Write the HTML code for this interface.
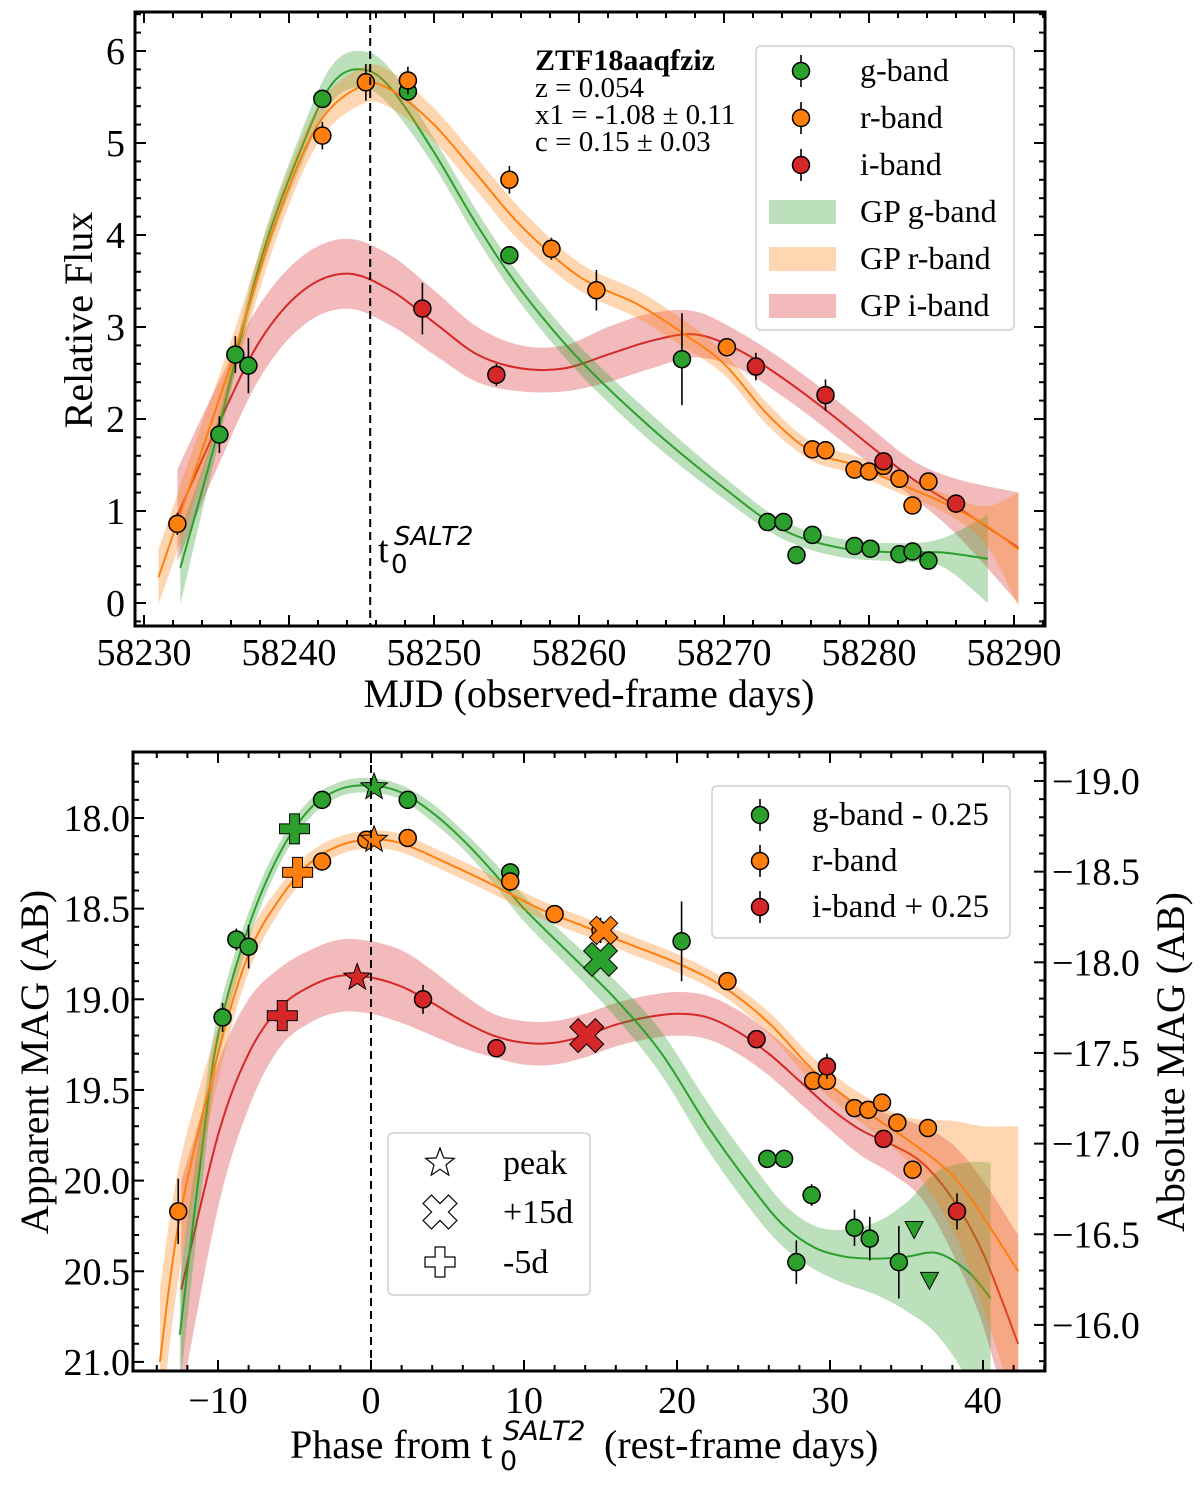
<!DOCTYPE html>
<html><head><meta charset="utf-8"><style>
html,body{margin:0;padding:0;background:#fff}
svg text{font-family:"Liberation Serif",serif;fill:#000}
.math{font-family:"DejaVu Sans",sans-serif;font-style:italic}
.mathup{font-family:"DejaVu Sans",sans-serif}
</style></head><body>
<svg id="fig" xmlns="http://www.w3.org/2000/svg" width="1200" height="1482" viewBox="0 0 1200 1482">
<defs>
<clipPath id="clipTop"><rect x="135" y="12" width="910" height="614"/></clipPath>
<clipPath id="clipBot"><rect x="133" y="752" width="912" height="619"/></clipPath>
</defs>
<g id="topPanel"></g>
<g id="botPanel"></g>
</svg>
<script>
// ---------- TOP PANEL DATA (MJD, relative flux) ----------
const gMjd=[58235.2,58236.3,58237.2,58242.3,58248.2,58255.2,58267.1,58273.0,58274.1,58275.0,58276.1,58279.0,58280.1,58282.1,58283.0,58284.1];
const gFlux=[1.83,2.70,2.58,5.48,5.56,3.78,2.65,0.88,0.88,0.52,0.74,0.62,0.59,0.53,0.56,0.46];
const gErr=[0.2,0.2,0.3,0.1,0.1,0.08,0.5,0.05,0.05,0.05,0.05,0.05,0.05,0.05,0.08,0.05];
const rMjd=[58232.3,58242.3,58245.3,58248.2,58255.2,58258.1,58261.2,58270.2,58276.1,58277.0,58279.0,58280.0,58281.0,58282.1,58283.0,58284.1];
const rFlux=[0.86,5.08,5.66,5.68,4.60,3.85,3.40,2.78,1.67,1.66,1.45,1.43,1.49,1.35,1.06,1.32];
const rErr=[0.12,0.15,0.2,0.15,0.15,0.12,0.22,0.1,0.05,0.05,0.05,0.05,0.05,0.05,0.05,0.05];
const iMjd=[58249.2,58254.3,58272.2,58277.0,58281.0,58286.0];
const iFlux=[3.20,2.48,2.57,2.26,1.54,1.08];
const iErr=[0.28,0.12,0.15,0.17,0.08,0.1];
const gpGx=[58232.5,58235,58238,58241,58243,58245,58247,58250,58253,58256,58260,58265,58270,58274,58278,58282,58285,58288.2];
const gpGy=[0.38,1.8,3.7,5.0,5.65,5.8,5.6,4.9,4.1,3.4,2.65,1.9,1.25,0.8,0.6,0.55,0.55,0.48];
const gpGs=[0.4,0.15,0.15,0.18,0.2,0.2,0.2,0.15,0.15,0.15,0.15,0.15,0.12,0.1,0.1,0.1,0.15,0.48];
const gpRx=[58231,58233,58236,58239,58242,58245,58247,58250,58253,58256,58260,58264,58267,58270,58273,58276,58279,58282,58285,58288,58290.3];
const gpRy=[0.28,1.2,2.6,4.1,5.2,5.62,5.58,5.2,4.65,4.1,3.55,3.25,2.95,2.6,2.05,1.65,1.5,1.3,1.1,0.85,0.58];
const gpRs=[0.3,0.3,0.25,0.2,0.2,0.2,0.2,0.18,0.18,0.18,0.15,0.15,0.15,0.12,0.12,0.1,0.1,0.1,0.1,0.2,0.62];
const gpIx=[58232.3,58235,58238,58241,58244,58247,58250,58253,58256,58259,58262,58265,58268,58271,58274,58277,58280,58283,58286,58290.3];
const gpIy=[0.95,1.9,2.85,3.4,3.58,3.4,3.05,2.7,2.55,2.55,2.7,2.85,2.92,2.75,2.45,2.1,1.72,1.35,1.05,0.6];
const gpIs=[0.5,0.45,0.4,0.38,0.38,0.38,0.35,0.3,0.25,0.25,0.3,0.3,0.25,0.2,0.2,0.2,0.2,0.2,0.3,0.6];
const t0Mjd=58245.6;
const topXTicks=[58230,58240,58250,58260,58270,58280,58290];
const topYTicks=[0,1,2,3,4,5,6];

// ---------- BOTTOM PANEL DATA (phase, apparent mag) ----------
const gPh=[-9.7,-8.8,-8.0,-3.2,2.4,9.1,20.3,25.9,27.0,27.8,28.8,31.6,32.6,34.5];
const gMag=[19.10,18.67,18.71,17.90,17.90,18.30,18.68,19.88,19.88,20.45,20.08,20.26,20.32,20.45];
const gMagErr=[0.08,0.06,0.12,0.02,0.02,0.04,0.22,0.05,0.05,0.12,0.06,0.1,0.12,0.2];
const gLimPh=[35.5,36.5];
const gLimMag=[20.27,20.55];
const rPh=[-12.6,-3.2,-0.3,2.4,9.1,12.0,15.0,23.3,28.9,29.8,31.6,32.5,33.4,34.4,35.4,36.4];
const rMag=[20.17,18.24,18.12,18.11,18.35,18.53,18.62,18.90,19.45,19.45,19.60,19.61,19.57,19.68,19.94,19.71];
const rMagErr=[0.18,0.04,0.04,0.03,0.04,0.03,0.07,0.03,0.03,0.03,0.03,0.03,0.04,0.04,0.05,0.04];
const iPh=[3.4,8.2,25.2,29.8,33.5,38.3];
const iMag=[19.00,19.27,19.22,19.37,19.77,20.17];
const iMagErr=[0.08,0.05,0.05,0.07,0.05,0.1];
const bgx=[-12.5,-11,-10,-8,-6,-4,-2,0,2,4,6,8,10,13,16,19,22,25,27,29,31,33,35,37,39,40.5];
const bgy=[20.85,19.8,19.2,18.6,18.2,17.95,17.84,17.82,17.86,17.97,18.12,18.3,18.5,18.75,19.0,19.3,19.7,20.05,20.25,20.37,20.42,20.43,20.42,20.4,20.5,20.65];
const bgs=[0.3,0.2,0.12,0.08,0.06,0.05,0.04,0.04,0.04,0.05,0.05,0.06,0.07,0.08,0.1,0.12,0.13,0.13,0.12,0.12,0.15,0.2,0.3,0.45,0.6,0.75];
const brx=[-13.8,-12.5,-10,-8,-6,-4,-2,0,2,5,8,11,14,17,20,23,26,29,32,35,38,40,42.3];
const bry=[21.0,20.2,19.3,18.75,18.45,18.25,18.15,18.12,18.14,18.25,18.37,18.5,18.6,18.7,18.8,18.93,19.13,19.4,19.6,19.77,19.97,20.2,20.5];
const brs=[0.4,0.3,0.15,0.1,0.07,0.06,0.05,0.05,0.05,0.05,0.05,0.05,0.05,0.05,0.05,0.05,0.06,0.07,0.08,0.12,0.3,0.5,0.8];
const bix=[-12.4,-10,-8,-6,-4,-2,0,2,4,6,8,10,12,14,16,18,20,22,24,26,28,30,32,34,36,38,40,42.3];
const biy=[20.6,19.75,19.3,19.05,18.93,18.87,18.88,18.93,19.02,19.12,19.2,19.24,19.24,19.2,19.14,19.1,19.08,19.1,19.18,19.3,19.45,19.6,19.72,19.8,19.9,20.1,20.4,20.9];
const bis=[0.6,0.4,0.3,0.22,0.2,0.2,0.2,0.2,0.18,0.15,0.12,0.12,0.12,0.12,0.12,0.12,0.12,0.12,0.12,0.12,0.12,0.12,0.14,0.16,0.2,0.3,0.4,0.6];
const peakPh=[0.2,0.2,-0.9];
const peakMag=[17.83,18.12,18.88];
const p15Ph=[15.0,15.2,14.1];
const p15Mag=[18.78,18.62,19.20];
const m5Ph=[-5.0,-4.8,-5.8];
const m5Mag=[18.06,18.30,19.09];
const botXTicks=[-10,0,10,20,30,40];
const botYTicks=[18.0,18.5,19.0,19.5,20.0,20.5,21.0];
const absTicks=[-19.0,-18.5,-18.0,-17.5,-17.0,-16.5,-16.0];
const distMod=36.796;

const C={g:'#2ca02c',r:'#ff7f0e',i:'#d62728'};
const NS='http://www.w3.org/2000/svg';
const TF=38;
function mk(parent,tag,attrs,txt){const e=document.createElementNS(NS,tag);for(const k in attrs)e.setAttribute(k,attrs[k]);if(txt!==undefined)e.textContent=txt;parent.appendChild(e);return e;}

const L=135,R=1045;
const xT=m=>144+(m-58230)*14.5;
const yT=f=>603-92*f;
const xB=p=>371+p*15.3;
const yB=m=>818+(m-18)*181.3;

function crPath(pts){
  let d='M'+pts[0][0].toFixed(1)+','+pts[0][1].toFixed(1);
  for(let k=0;k<pts.length-1;k++){
    const p0=pts[Math.max(k-1,0)],p1=pts[k],p2=pts[k+1],p3=pts[Math.min(k+2,pts.length-1)];
    const c1=[p1[0]+(p2[0]-p0[0])/6,p1[1]+(p2[1]-p0[1])/6];
    const c2=[p2[0]-(p3[0]-p1[0])/6,p2[1]-(p3[1]-p1[1])/6];
    d+='C'+c1[0].toFixed(1)+','+c1[1].toFixed(1)+' '+c2[0].toFixed(1)+','+c2[1].toFixed(1)+' '+p2[0].toFixed(1)+','+p2[1].toFixed(1);
  }
  return d;
}
function drawGP(g,xs,ys,ss,fx,fy,col,name){
  const up=xs.map((x,k)=>[fx(x),fy(ys[k]+ss[k])]);
  const lo=xs.map((x,k)=>[fx(x),fy(ys[k]-ss[k])]).reverse();
  const lp=crPath(lo);
  const d=crPath(up)+'L'+lo[0][0].toFixed(1)+','+lo[0][1].toFixed(1)+lp.slice(lp.indexOf('C'))+'Z';
  const band=mk(g,'path',{d:d,fill:col,'fill-opacity':0.32,stroke:'none'});
  
  
  const line=mk(g,'path',{d:crPath(xs.map((x,k)=>[fx(x),fy(ys[k])])),fill:'none',stroke:col,'stroke-width':2});
  
  
}
function drawPts(g,xs,ys,es,fx,fy,col,name){
  xs.forEach((x,k)=>{
    const px=fx(x),py=fy(ys[k]);
    const eb=mk(g,'line',{x1:px,x2:px,y1:fy(ys[k]+es[k]),y2:fy(ys[k]-es[k]),stroke:'#000','stroke-width':1.6});
    
    
    const c=mk(g,'circle',{cx:px,cy:py,r:8.5,fill:col,stroke:'#000','stroke-width':1.5});
    
    
  });
}
function starPath(cx,cy,R1){let d='';for(let k=0;k<10;k++){const r=k%2?R1*0.42:R1;const a=-Math.PI/2+k*Math.PI/5;d+=(k?'L':'M')+(cx+r*Math.cos(a)).toFixed(1)+','+(cy+r*Math.sin(a)).toFixed(1);}return d+'Z';}
function crossPath(cx,cy,s,rot){const w=s*0.33,h=s;const pts=[[-w/2,-h/2],[w/2,-h/2],[w/2,-w/2],[h/2,-w/2],[h/2,w/2],[w/2,w/2],[w/2,h/2],[-w/2,h/2],[-w/2,w/2],[-h/2,w/2],[-h/2,-w/2],[-w/2,-w/2]];const c=Math.cos(rot),sn=Math.sin(rot);return 'M'+pts.map(p=>[(cx+p[0]*c-p[1]*sn).toFixed(1),(cy+p[0]*sn+p[1]*c).toFixed(1)].join(',')).join('L')+'Z';}

// ================= TOP PANEL =================
const topG=document.getElementById('topPanel');
const tp=mk(topG,'g',{'clip-path':'url(#clipTop)'});
drawGP(tp,gpIx,gpIy,gpIs,xT,yT,C.i,'gp-i');
drawGP(tp,gpGx,gpGy,gpGs,xT,yT,C.g,'gp-g');
drawGP(tp,gpRx,gpRy,gpRs,xT,yT,C.r,'gp-r');
const dlT=mk(topG,'line',{x1:xT(t0Mjd),x2:xT(t0Mjd),y1:12,y2:626,stroke:'#000','stroke-width':2,'stroke-dasharray':'8,5'});


drawPts(tp,gMjd,gFlux,gErr,xT,yT,C.g,'g-band');
drawPts(tp,rMjd,rFlux,rErr,xT,yT,C.r,'r-band');
drawPts(tp,iMjd,iFlux,iErr,xT,yT,C.i,'i-band');
mk(topG,'rect',{x:L,y:12,width:R-L,height:614,fill:'none',stroke:'#000','stroke-width':3});
for(let m=58230;m<=58292;m+=2){const maj=(m%10===0);const x=xT(m);if(x<L||x>R)continue;const len=maj?11:6;
  mk(topG,'line',{x1:x,x2:x,y1:626,y2:626-len,stroke:'#000','stroke-width':2});
  mk(topG,'line',{x1:x,x2:x,y1:12,y2:12+len,stroke:'#000','stroke-width':2});}
for(let k=-1;k<=32;k++){const f=k*0.2;const y=yT(f);if(y<12||y>626)continue;const maj=k%5===0;const len=maj?11:6;
  mk(topG,'line',{x1:L,x2:L+len,y1:y,y2:y,stroke:'#000','stroke-width':2});
  mk(topG,'line',{x1:R,x2:R-len,y1:y,y2:y,stroke:'#000','stroke-width':2});}
topXTicks.forEach(v=>{const t=mk(topG,'text',{x:xT(v),y:665,'font-size':TF,'text-anchor':'middle'},String(v));
  
  });
topYTicks.forEach(v=>{const t=mk(topG,'text',{x:125,y:yT(v)+13,'font-size':TF,'text-anchor':'end'},String(v));
  
  });

topG.insertAdjacentHTML('beforeend',`
<text x="589" y="707" font-size="40" text-anchor="middle">MJD (observed-frame days)</text>
<text transform="translate(92,320) rotate(-90)" font-size="40" text-anchor="middle">Relative Flux</text>
<text x="378" y="562" font-size="38">t</text>
<text class="mathup" x="391" y="573" font-size="26">0</text>
<text class="math" x="394" y="545" font-size="26">SALT2</text>
<text x="535" y="70" font-size="30" font-weight="bold">ZTF18aaqfziz</text>
<text x="535" y="97" font-size="29">z = 0.054</text>
<text x="535" y="124" font-size="29">x1 = -1.08 ± 0.11</text>
<text x="535" y="151" font-size="29">c = 0.15 ± 0.03</text>
<g>
<rect x="756" y="46" width="258" height="284" rx="5" fill="#fff" fill-opacity="0.85" stroke="#d0d0d0" stroke-width="1.5"/>
<g><line x1="801" x2="801" y1="55" y2="87" stroke="#000" stroke-width="1.6"/><circle cx="801" cy="71" r="8.5" fill="#2ca02c" stroke="#000" stroke-width="1.5"/><text x="860" y="81" font-size="32">g-band</text></g>
<g><line x1="801" x2="801" y1="102" y2="134" stroke="#000" stroke-width="1.6"/><circle cx="801" cy="118" r="8.5" fill="#ff7f0e" stroke="#000" stroke-width="1.5"/><text x="860" y="128" font-size="32">r-band</text></g>
<g><line x1="801" x2="801" y1="149" y2="181" stroke="#000" stroke-width="1.6"/><circle cx="801" cy="165" r="8.5" fill="#d62728" stroke="#000" stroke-width="1.5"/><text x="860" y="175" font-size="32">i-band</text></g>
<g><rect x="769" y="200" width="67" height="24" fill="#2ca02c" fill-opacity="0.32"/><text x="860" y="222" font-size="32">GP g-band</text></g>
<g><rect x="769" y="247" width="67" height="24" fill="#ff7f0e" fill-opacity="0.32"/><text x="860" y="269" font-size="32">GP r-band</text></g>
<g><rect x="769" y="294" width="67" height="24" fill="#d62728" fill-opacity="0.32"/><text x="860" y="316" font-size="32">GP i-band</text></g>
</g>`);

// ================= BOTTOM PANEL =================
const botG=document.getElementById('botPanel');
const bp=mk(botG,'g',{'clip-path':'url(#clipBot)'});
drawGP(bp,bix,biy,bis,xB,yB,C.i,'gp-i-mag');
drawGP(bp,bgx,bgy,bgs,xB,yB,C.g,'gp-g-mag');
drawGP(bp,brx,bry,brs,xB,yB,C.r,'gp-r-mag');
const dlB=mk(botG,'line',{x1:xB(0),x2:xB(0),y1:752,y2:1371,stroke:'#000','stroke-width':2,'stroke-dasharray':'8,5'});


drawPts(bp,gPh,gMag,gMagErr,xB,yB,C.g,'g-mag');
drawPts(bp,rPh,rMag,rMagErr,xB,yB,C.r,'r-mag');
drawPts(bp,iPh,iMag,iMagErr,xB,yB,C.i,'i-mag');
gLimPh.forEach((p,k)=>{const x=xB(p),y=yB(gLimMag[k]);
  const t=mk(bp,'path',{d:`M${x-9},${y-8}L${x+9},${y-8}L${x},${y+9}Z`,fill:C.g,stroke:'#000','stroke-width':1});
  
  });
const cols=[C.g,C.r,C.i];
peakPh.forEach((p,k)=>{const s=mk(bp,'path',{d:starPath(xB(p),yB(peakMag[k]),14),fill:cols[k],stroke:'#000','stroke-width':1});
  
  });
p15Ph.forEach((p,k)=>{const s=mk(bp,'path',{d:crossPath(xB(p),yB(p15Mag[k]),k==1?30:36,Math.PI/4),fill:cols[k],stroke:'#000','stroke-width':1});
  
  });
m5Ph.forEach((p,k)=>{const s=mk(bp,'path',{d:crossPath(xB(p),yB(m5Mag[k]),30,0),fill:cols[k],stroke:'#000','stroke-width':1});
  
  });
mk(botG,'rect',{x:133,y:752,width:912,height:619,fill:'none',stroke:'#000','stroke-width':3});
for(let p=-14;p<=44;p+=2){const x=xB(p);if(x<133||x>1045)continue;const len=(p%10===0)?11:6;
  mk(botG,'line',{x1:x,x2:x,y1:1371,y2:1371-len,stroke:'#000','stroke-width':2});
  mk(botG,'line',{x1:x,x2:x,y1:752,y2:752+len,stroke:'#000','stroke-width':2});}
for(let k=176;k<=211;k++){const m=k/10;const y=yB(m);if(y<752||y>1371)continue;const len=(k%5===0)?11:6;
  mk(botG,'line',{x1:133,x2:133+len,y1:y,y2:y,stroke:'#000','stroke-width':2});}
for(let k=-193;k<=-157;k++){const a=k/10;const y=yB(a+distMod);if(y<752||y>1371)continue;const len=(k%5===0)?11:6;
  mk(botG,'line',{x1:1045,x2:1045-len,y1:y,y2:y,stroke:'#000','stroke-width':2});}
botXTicks.forEach(v=>{const t=mk(botG,'text',{x:xB(v),y:1413,'font-size':TF,'text-anchor':'middle'},v<0?'\u2212'+Math.abs(v):String(v));
  
  });
botYTicks.forEach(v=>{const t=mk(botG,'text',{x:130,y:yB(v)+13,'font-size':TF,'text-anchor':'end'},v.toFixed(1));
  
  });
absTicks.forEach(v=>{const t=mk(botG,'text',{x:1052,y:yB(v+distMod)+13,'font-size':TF,'text-anchor':'start'},'\u2212'+Math.abs(v).toFixed(1));
  
  });
botG.insertAdjacentHTML('beforeend',`
<text x="290" y="1458" font-size="40">Phase from t</text>
<text class="mathup" x="500" y="1470" font-size="27">0</text>
<text class="math" x="503" y="1440" font-size="27">SALT2</text>
<text x="604" y="1458" font-size="40">(rest-frame days)</text>
<text transform="translate(48,1062) rotate(-90)" font-size="40" text-anchor="middle">Apparent MAG (AB)</text>
<text transform="translate(1184,1062) rotate(-90)" font-size="40" text-anchor="middle">Absolute MAG (AB)</text>
<g>
<rect x="712" y="786" width="298" height="152" rx="5" fill="#fff" fill-opacity="0.85" stroke="#d0d0d0" stroke-width="1.5"/>
<g><line x1="760" x2="760" y1="799" y2="831" stroke="#000" stroke-width="1.6"/><circle cx="760" cy="815" r="8.5" fill="#2ca02c" stroke="#000" stroke-width="1.5"/><text x="812" y="825" font-size="33">g-band - 0.25</text></g>
<g><line x1="760" x2="760" y1="845" y2="877" stroke="#000" stroke-width="1.6"/><circle cx="760" cy="861" r="8.5" fill="#ff7f0e" stroke="#000" stroke-width="1.5"/><text x="812" y="871" font-size="33">r-band</text></g>
<g><line x1="760" x2="760" y1="891" y2="923" stroke="#000" stroke-width="1.6"/><circle cx="760" cy="907" r="8.5" fill="#d62728" stroke="#000" stroke-width="1.5"/><text x="812" y="917" font-size="33">i-band + 0.25</text></g>
</g>
<g>
<rect x="388" y="1133" width="202" height="162" rx="5" fill="#fff" fill-opacity="0.85" stroke="#d0d0d0" stroke-width="1.5"/>
<g><path d="${starPath(440,1163,15)}" fill="#fff" stroke="#000" stroke-width="1.2"/><text x="503" y="1174" font-size="34">peak</text></g>
<g><path d="${crossPath(440,1212,36,Math.PI/4)}" fill="#fff" stroke="#000" stroke-width="1.2"/><text x="503" y="1223" font-size="34">+15d</text></g>
<g><path d="${crossPath(440,1262,30,0)}" fill="#fff" stroke="#000" stroke-width="1.2"/><text x="503" y="1273" font-size="34">-5d</text></g>
</g>`);
</script>
</body></html>
